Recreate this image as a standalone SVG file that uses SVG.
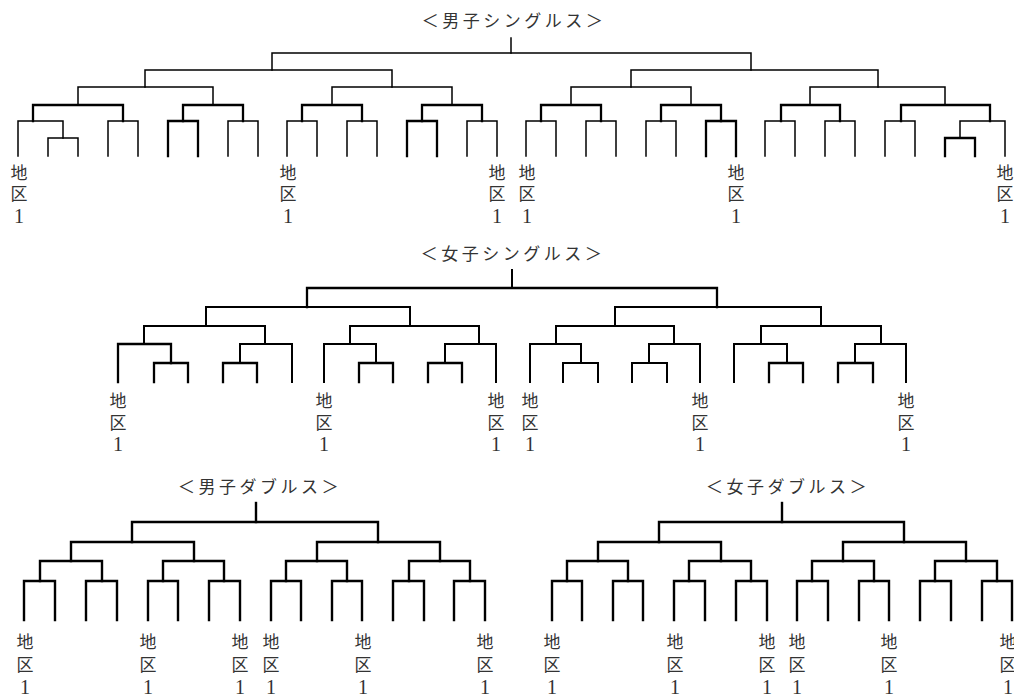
<svg xmlns="http://www.w3.org/2000/svg" width="1014" height="698" viewBox="0 0 1014 698">
<style>
  .ln { fill: none; stroke: #000; stroke-linecap: square; stroke-linejoin: miter; }
  .ms { stroke-width: 1.5; }
  .bd { stroke-width: 2.3; }
  .ws { stroke-width: 2; }
  .db { stroke-width: 2.4; }
  .ttl { font-family: "Noto Sans CJK JP", "Liberation Sans", sans-serif; font-size: 17px; fill: #333; text-anchor: middle; letter-spacing: 3.5px; }
  .lab { font-family: "Noto Sans CJK JP", sans-serif; font-size: 17px; fill: #333; text-anchor: middle; }
  .num { font-family: "Liberation Serif", "Noto Sans CJK JP", serif; font-size: 20px; }
</style>
<rect width="1014" height="698" fill="#fff"/>

<g id="mens-singles">
  <text class="ttl" x="514" y="27">＜男子シングルス＞</text>
  <g id="ms-connectors" class="ln ms">
    <path d="M48 156V138H78V156"/>
    <path d="M18 156V121H63V138"/>
    <path d="M108 156V121H138V156"/>
    <path d="M168 156V121H198V156" class="bd"/>
    <path d="M228 156V121H258V156"/>
    <path d="M33 121V105H123V121" class="bd"/>
    <path d="M183 121V105H243V121" class="bd"/>
    <path d="M78 105V87H213V105"/>
    <path d="M287 156V121H317V156"/>
    <path d="M347 156V121H377V156"/>
    <path d="M407 156V121H437V156" class="bd"/>
    <path d="M467 156V121H497V156"/>
    <path d="M302 121V105H362V121" class="bd"/>
    <path d="M422 121V105H482V121" class="bd"/>
    <path d="M332 105V87H452V105"/>
    <path d="M145 87V70H392V87"/>
    <path d="M526 156V121H556V156"/>
    <path d="M586 156V121H616V156"/>
    <path d="M646 156V121H676V156"/>
    <path d="M706 156V121H736V156" class="bd"/>
    <path d="M541 121V105H601V121" class="bd"/>
    <path d="M661 121V105H721V121" class="bd"/>
    <path d="M571 105V87H691V105"/>
    <path d="M765 156V121H795V156"/>
    <path d="M825 156V121H855V156"/>
    <path d="M885 156V121H915V156"/>
    <path d="M945 156V138H975V156" class="bd"/>
    <path d="M960 138V121H1005V156"/>
    <path d="M781 121V105H840V121" class="bd"/>
    <path d="M901 121V105H990V121" class="bd"/>
    <path d="M810 105V87H945V105"/>
    <path d="M631 87V70H878V87"/>
    <path d="M272 70V53H751V70"/>
    <path d="M511 53V38"/>
  </g>
  <g id="ms-labels">
    <text class="lab" x="19" y="179"><tspan x="19">地</tspan><tspan x="19" y="200">区</tspan><tspan x="19" y="223" class="num">1</tspan></text>
    <text class="lab" x="288" y="179"><tspan x="288">地</tspan><tspan x="288" y="200">区</tspan><tspan x="288" y="223" class="num">1</tspan></text>
    <text class="lab" x="497" y="179"><tspan x="497">地</tspan><tspan x="497" y="200">区</tspan><tspan x="497" y="223" class="num">1</tspan></text>
    <text class="lab" x="527" y="179"><tspan x="527">地</tspan><tspan x="527" y="200">区</tspan><tspan x="527" y="223" class="num">1</tspan></text>
    <text class="lab" x="736" y="179"><tspan x="736">地</tspan><tspan x="736" y="200">区</tspan><tspan x="736" y="223" class="num">1</tspan></text>
    <text class="lab" x="1005" y="179"><tspan x="1005">地</tspan><tspan x="1005" y="200">区</tspan><tspan x="1005" y="223" class="num">1</tspan></text>
  </g>
</g>

<g id="womens-singles">
  <text class="ttl" x="513" y="260">＜女子シングルス＞</text>
  <g id="ws-connectors" class="ln ws">
    <path d="M154 382V363H188V382" class="bd"/>
    <path d="M118 382V344H171V363" class="bd"/>
    <path d="M223 382V363H257V382" class="bd"/>
    <path d="M240 363V344H292V382"/>
    <path d="M144 344V326H265V344"/>
    <path d="M359 382V363H393V382" class="bd"/>
    <path d="M324 382V344H376V363"/>
    <path d="M428 382V363H462V382" class="bd"/>
    <path d="M445 363V344H496V382"/>
    <path d="M350 344V326H479V344"/>
    <path d="M206 326V307H410V326"/>
    <path d="M563 382V363H598V382"/>
    <path d="M530 382V344H581V363"/>
    <path d="M632 382V363H667V382"/>
    <path d="M649 363V344H700V382"/>
    <path d="M556 344V326H674V344"/>
    <path d="M769 382V363H803V382" class="bd"/>
    <path d="M734 382V344H787V363"/>
    <path d="M838 382V363H873V382" class="bd"/>
    <path d="M855 363V344H906V382"/>
    <path d="M761 344V326H881V344"/>
    <path d="M615 326V307H821V326"/>
    <path d="M307 307V288H717V307" class="bd"/>
    <path d="M512 288V270"/>
  </g>
  <g id="ws-labels">
    <text class="lab" x="118" y="407"><tspan x="118">地</tspan><tspan x="118" y="429">区</tspan><tspan x="118" y="451" class="num">1</tspan></text>
    <text class="lab" x="324" y="407"><tspan x="324">地</tspan><tspan x="324" y="429">区</tspan><tspan x="324" y="451" class="num">1</tspan></text>
    <text class="lab" x="496" y="407"><tspan x="496">地</tspan><tspan x="496" y="429">区</tspan><tspan x="496" y="451" class="num">1</tspan></text>
    <text class="lab" x="530" y="407"><tspan x="530">地</tspan><tspan x="530" y="429">区</tspan><tspan x="530" y="451" class="num">1</tspan></text>
    <text class="lab" x="700" y="407"><tspan x="700">地</tspan><tspan x="700" y="429">区</tspan><tspan x="700" y="451" class="num">1</tspan></text>
    <text class="lab" x="906" y="407"><tspan x="906">地</tspan><tspan x="906" y="429">区</tspan><tspan x="906" y="451" class="num">1</tspan></text>
  </g>
</g>

<g id="mens-doubles">
  <text class="ttl" x="260" y="493">＜男子ダブルス＞</text>
  <g id="md-connectors" class="ln db">
    <path d="M24 620V581H55V620"/>
    <path d="M86 620V581H117V620"/>
    <path d="M148 620V581H178V620"/>
    <path d="M209 620V581H240V620"/>
    <path d="M271 620V581H301V620"/>
    <path d="M332 620V581H362V620"/>
    <path d="M393 620V581H424V620"/>
    <path d="M454 620V581H485V620"/>
    <path d="M40 581V561H102V581"/>
    <path d="M163 581V561H224V581"/>
    <path d="M286 581V561H347V581"/>
    <path d="M409 581V561H470V581"/>
    <path d="M71 561V542H194V561"/>
    <path d="M317 561V542H440V561"/>
    <path d="M132 542V522H378V542"/>
    <path d="M256 522V503"/>
  </g>
  <g id="md-labels">
    <text class="lab" x="25" y="648"><tspan x="25">地</tspan><tspan x="25" y="671">区</tspan><tspan x="25" y="694" class="num">1</tspan></text>
    <text class="lab" x="148" y="648"><tspan x="148">地</tspan><tspan x="148" y="671">区</tspan><tspan x="148" y="694" class="num">1</tspan></text>
    <text class="lab" x="240" y="648"><tspan x="240">地</tspan><tspan x="240" y="671">区</tspan><tspan x="240" y="694" class="num">1</tspan></text>
    <text class="lab" x="271" y="648"><tspan x="271">地</tspan><tspan x="271" y="671">区</tspan><tspan x="271" y="694" class="num">1</tspan></text>
    <text class="lab" x="363" y="648"><tspan x="363">地</tspan><tspan x="363" y="671">区</tspan><tspan x="363" y="694" class="num">1</tspan></text>
    <text class="lab" x="485" y="648"><tspan x="485">地</tspan><tspan x="485" y="671">区</tspan><tspan x="485" y="694" class="num">1</tspan></text>
  </g>
</g>

<g id="womens-doubles">
  <text class="ttl" x="788" y="493">＜女子ダブルス＞</text>
  <g id="wd-connectors" class="ln db">
    <path d="M552 620V581H582V620"/>
    <path d="M613 620V581H643V620"/>
    <path d="M674 620V581H705V620"/>
    <path d="M736 620V581H767V620"/>
    <path d="M797 620V581H828V620"/>
    <path d="M859 620V581H889V620"/>
    <path d="M920 620V581H951V620"/>
    <path d="M982 620V581H1012V620"/>
    <path d="M567 581V561H628V581"/>
    <path d="M689 581V561H751V581"/>
    <path d="M812 581V561H874V581"/>
    <path d="M935 581V561H997V581"/>
    <path d="M598 561V542H721V561"/>
    <path d="M843 561V542H966V561"/>
    <path d="M659 542V522H904V542"/>
    <path d="M782 522V503"/>
  </g>
  <g id="wd-labels">
    <text class="lab" x="552" y="648"><tspan x="552">地</tspan><tspan x="552" y="671">区</tspan><tspan x="552" y="694" class="num">1</tspan></text>
    <text class="lab" x="675" y="648"><tspan x="675">地</tspan><tspan x="675" y="671">区</tspan><tspan x="675" y="694" class="num">1</tspan></text>
    <text class="lab" x="767" y="648"><tspan x="767">地</tspan><tspan x="767" y="671">区</tspan><tspan x="767" y="694" class="num">1</tspan></text>
    <text class="lab" x="797" y="648"><tspan x="797">地</tspan><tspan x="797" y="671">区</tspan><tspan x="797" y="694" class="num">1</tspan></text>
    <text class="lab" x="889" y="648"><tspan x="889">地</tspan><tspan x="889" y="671">区</tspan><tspan x="889" y="694" class="num">1</tspan></text>
    <text class="lab" x="1008" y="648"><tspan x="1008">地</tspan><tspan x="1008" y="671">区</tspan><tspan x="1008" y="694" class="num">1</tspan></text>
  </g>
</g>
</svg>
